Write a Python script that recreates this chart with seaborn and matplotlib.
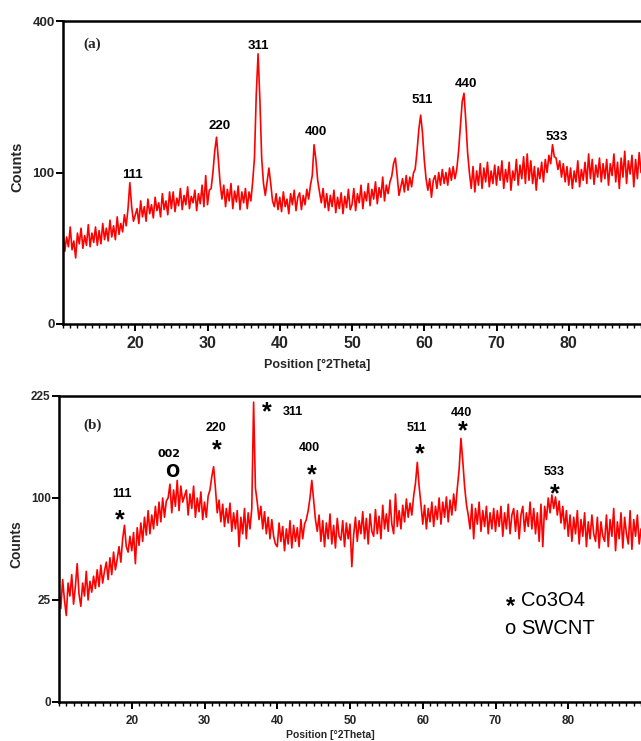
import numpy as np
import pandas as pd
import matplotlib
matplotlib.use("Agg")
import matplotlib.pyplot as plt
import seaborn as sns
from matplotlib import font_manager
from matplotlib.ticker import FixedLocator, MultipleLocator

# ---- diffraction data: counts sampled every 0.25 deg 2-theta from 10 to 90 ----
TWO_THETA_START, TWO_THETA_STOP, TWO_THETA_STEP = 10.0, 90.0, 0.25

counts_a = [
    38, 23, 33, 26, 41, 24, 30, 19, 36, 28, 40, 25, 34, 27, 43, 26, 36, 29, 41, 27,
    38, 28, 44, 31, 40, 30, 47, 33, 42, 31, 50, 35, 44, 37, 52, 42, 58, 87, 60, 46,
    52, 58, 44, 66, 50, 60, 46, 68, 53, 62, 49, 70, 56, 64, 50, 74, 57, 66, 52, 76,
    58, 76, 55, 69, 61, 80, 57, 72, 62, 82, 58, 71, 64, 78, 56, 74, 63, 84, 60, 96,
    62, 78, 80, 100, 130, 152, 118, 86, 68, 84, 60, 79, 66, 86, 58, 77, 65, 83, 57, 76,
    64, 80, 58, 76, 66, 88, 120, 230, 318, 220, 120, 86, 72, 88, 106, 86, 66, 60, 74, 57,
    70, 55, 76, 60, 68, 53, 74, 62, 78, 56, 70, 75, 57, 72, 62, 79, 68, 84, 96, 140,
    118, 90, 76, 64, 80, 59, 74, 56, 72, 60, 78, 54, 70, 58, 75, 53, 71, 59, 79, 57,
    62, 80, 56, 74, 64, 84, 58, 76, 66, 86, 61, 79, 68, 88, 63, 81, 70, 94, 66, 84,
    74, 88, 95, 112, 120, 96, 72, 82, 92, 76, 96, 78, 94, 82, 99, 105, 130, 165, 190, 160,
    118, 92, 78, 92, 70, 90, 96, 80, 100, 84, 104, 86, 100, 84, 106, 90, 108, 92, 104, 130,
    170, 215, 232, 180, 128, 100, 80, 108, 76, 102, 84, 112, 80, 106, 88, 114, 82, 102, 86, 110,
    84, 108, 90, 116, 80, 104, 88, 114, 78, 102, 90, 118, 84, 110, 92, 122, 86, 126, 90, 116,
    86, 108, 78, 106, 92, 114, 88, 118, 100, 124, 112, 140, 122, 120, 104, 116, 94, 112, 88, 108,
    84, 106, 80, 102, 88, 116, 82, 104, 90, 114, 86, 126, 92, 118, 85, 110, 94, 120, 88, 112,
    92, 118, 84, 112, 96, 126, 88, 114, 80, 120, 94, 130, 86, 116, 98, 124, 82, 118, 92, 128,
    100,
]

counts_b = [
    31, 21, 36, 25, 18, 34, 27, 39, 23, 32, 46, 28, 22, 34, 27, 41, 25, 35, 29, 38,
    31, 42, 32, 45, 34, 41, 47, 36, 50, 39, 54, 42, 49, 58, 47, 64, 75, 58, 54, 66,
    55, 69, 46, 73, 59, 77, 62, 82, 67, 88, 68, 84, 72, 92, 75, 96, 78, 100, 82, 97,
    100, 114, 86, 108, 92, 118, 88, 112, 96, 102, 108, 84, 104, 90, 112, 82, 100, 87, 106, 80,
    96, 82, 102, 108, 122, 133, 110, 86, 98, 78, 94, 74, 90, 77, 95, 70, 86, 72, 88, 58,
    82, 68, 90, 64, 86, 72, 90, 216, 110, 96, 80, 92, 72, 87, 68, 82, 64, 80, 66, 60,
    58, 77, 62, 74, 55, 72, 60, 79, 57, 75, 62, 73, 58, 80, 64, 76, 80, 88, 100, 118,
    98, 80, 70, 84, 62, 79, 58, 77, 64, 85, 60, 75, 57, 81, 66, 63, 79, 58, 77, 64,
    76, 44, 67, 82, 62, 79, 68, 87, 64, 81, 60, 85, 70, 66, 89, 68, 83, 64, 93, 72,
    85, 70, 98, 76, 68, 104, 74, 88, 72, 93, 78, 99, 82, 95, 84, 102, 115, 138, 112, 94,
    76, 93, 72, 90, 78, 96, 74, 92, 80, 100, 76, 96, 82, 101, 78, 98, 84, 104, 88, 110,
    130, 167, 140, 112, 94, 84, 72, 94, 64, 90, 76, 96, 70, 88, 74, 92, 68, 86, 72, 90,
    70, 88, 74, 92, 66, 86, 72, 94, 68, 84, 90, 70, 88, 64, 84, 92, 70, 86, 74, 96,
    72, 90, 68, 86, 62, 94, 58, 92, 80, 100, 86, 103, 90, 101, 84, 97, 77, 92, 72, 88,
    66, 84, 62, 82, 68, 88, 60, 80, 66, 86, 58, 78, 64, 84, 68, 62, 82, 57, 78, 66,
    62, 84, 58, 80, 66, 90, 55, 78, 64, 86, 57, 82, 68, 60, 88, 56, 80, 66, 84, 60,
    72,
]

# axis ticks
x_major_ticks = [20, 30, 40, 50, 60, 70, 80]
y_ticks_a = [0, 100, 400]
y_ticks_b = [0, 25, 100, 225]

# reflection labels (Miller indices) with their anchor positions (2theta, counts)
hkl_a = ["111", "220", "311", "400", "511", "440", "533"]
hkl_a_pos = [(19.55, 97), (31.7, 171), (37.1, 337), (45.0, 161), (59.7, 219), (65.8, 251), (78.4, 152)]

hkl_b = ["111", "220", "311", "400", "511", "440", "533"]
hkl_b_pos = [(18.6, 104), (31.6, 181), (42.2, 202), (44.4, 155), (59.2, 181), (65.35, 201), (78.0, 127)]
star_b_pos = [(18.4, 79), (31.7, 152), (38.6, 202), (44.7, 124), (59.6, 147), (65.5, 176), (78.2, 104)]
cnt_label, cnt_label_pos = "002", (25.1, 148)
cnt_mark_pos = (25.5, 127)

legend_items = [("*", "Co3O4"), ("o", "SWCNT")]

# ---- fonts ----
installed = {f.name for f in font_manager.fontManager.ttflist}
NARROW = "Liberation Sans Narrow" if "Liberation Sans Narrow" in installed else "Liberation Sans"

sns.set_theme(style="ticks")
plt.rcParams["font.family"] = ["Liberation Sans", "DejaVu Sans"]

two_theta = np.arange(TWO_THETA_START, TWO_THETA_STOP + TWO_THETA_STEP / 2, TWO_THETA_STEP)
df_a = pd.DataFrame({"two_theta": two_theta, "counts": counts_a})
df_b = pd.DataFrame({"two_theta": two_theta, "counts": counts_b})

W, H = 641, 741
fig = plt.figure(figsize=(W / 100, H / 100), dpi=100)
ax_a = fig.add_axes([63 / W, 1 - 324 / H, 1 - 63 / W, (324 - 21) / H])
ax_b = fig.add_axes([59 / W, 1 - 702 / H, 1 - 59 / W, (702 - 396) / H])


def sqrt_fwd(v):
    return np.sqrt(np.clip(v, 0, None))


def sqrt_inv(v):
    return np.square(v)


def style_axes(ax, yticks, tick_size_x, tick_size_y):
    ax.set_yscale("function", functions=(sqrt_fwd, sqrt_inv))
    ax.set_xlim(TWO_THETA_START, TWO_THETA_STOP)
    ax.set_ylim(yticks[0], yticks[-1])
    ax.yaxis.set_major_locator(FixedLocator(yticks))
    ax.yaxis.set_minor_locator(FixedLocator([]))
    ax.set_yticklabels([str(t) for t in yticks])
    ax.xaxis.set_major_locator(FixedLocator(x_major_ticks))
    ax.xaxis.set_minor_locator(MultipleLocator(1))
    ax.set_xlabel("")
    ax.set_ylabel("")
    ax.spines["right"].set_visible(False)
    for s in ("left", "top", "bottom"):
        ax.spines[s].set_linewidth(1.8)
        ax.spines[s].set_color("black")
    ax.tick_params(axis="both", which="major", direction="out", length=5, width=1.4, color="black")
    ax.tick_params(axis="x", which="minor", direction="out", length=3, width=1.0, color="black")
    ax.tick_params(axis="y", which="major", pad=1)
    ax.tick_params(axis="x", which="major", pad=4)
    for lab in ax.get_xticklabels():
        lab.set_fontfamily(NARROW)
        lab.set_fontweight("bold")
        lab.set_fontsize(tick_size_x)
    for lab in ax.get_yticklabels():
        lab.set_fontfamily(NARROW)
        lab.set_fontweight("bold")
        lab.set_fontsize(tick_size_y)
    ax.set_facecolor("white")
    ax.grid(False)


TRACE = dict(color="#ff0000", lw=1.2, estimator=None, sort=False)

# ---- panel (a) ----
sns.lineplot(data=df_a, x="two_theta", y="counts", ax=ax_a, **TRACE)
style_axes(ax_a, y_ticks_a, 11.5, 9.5)
for lab, (x, y) in zip(hkl_a, hkl_a_pos):
    ax_a.text(x, y, lab, ha="center", va="center", fontsize=9.5, fontweight="bold",
              family=NARROW, color="black")
ax_a.text(14.1, 342, "(a)", ha="center", va="center", fontsize=11, fontweight="bold",
          family="Liberation Serif")

# ---- panel (b) ----
sns.lineplot(data=df_b, x="two_theta", y="counts", ax=ax_b, **TRACE)
style_axes(ax_b, y_ticks_b, 8.5, 8.5)
for lab, (x, y) in zip(hkl_b, hkl_b_pos):
    ax_b.text(x, y, lab, ha="center", va="center", fontsize=9, fontweight="bold",
              family=NARROW, color="black")
for x, y in star_b_pos:
    ax_b.text(x, y, "*", ha="center", va="center", fontsize=18, fontweight="bold",
              family="Liberation Sans", color="black")
ax_b.text(*cnt_label_pos, cnt_label, ha="center", va="center", fontsize=8, fontweight="bold",
          family="DejaVu Sans", color="black")
ax_b.text(*cnt_mark_pos, "O", ha="center", va="center", fontsize=12, fontweight="bold",
          family="DejaVu Sans", color="black")
ax_b.text(14.6, 184, "(b)", ha="center", va="center", fontsize=11, fontweight="bold",
          family="Liberation Serif")

# legend written as plain text in the lower right of panel (b)
leg_rows_y = [600, 628]
leg_sym_size = [17, 14.5]
leg_sym_dy = [7, 0]
for (sym, name), py, ss, dy in zip(legend_items, leg_rows_y, leg_sym_size, leg_sym_dy):
    fig.text(510 / W, 1 - (py + dy) / H, sym, ha="center", va="center", fontsize=ss,
             fontweight="bold" if sym == "*" else "normal", family="Liberation Sans", color="black")
    fig.text(521 / W, 1 - py / H, name, ha="left", va="center", fontsize=14.5,
             family="Liberation Sans", color="black")

# axis titles
for cx, cy, size in [(17, 167, 10.5), (16, 544, 10)]:
    fig.text(cx / W, 1 - cy / H, "Counts", rotation=90, ha="center", va="center",
             fontsize=size, fontweight="bold", family=NARROW)
fig.text(317 / W, 1 - 365 / H, "Position [°2Theta]", ha="center", va="center",
         fontsize=9, fontweight="bold", family=NARROW)
fig.text(330 / W, 1 - 735 / H, "Position [°2Theta]", ha="center", va="center",
         fontsize=7.5, fontweight="bold", family=NARROW)

fig.savefig("out.png", dpi=100, facecolor="white")
